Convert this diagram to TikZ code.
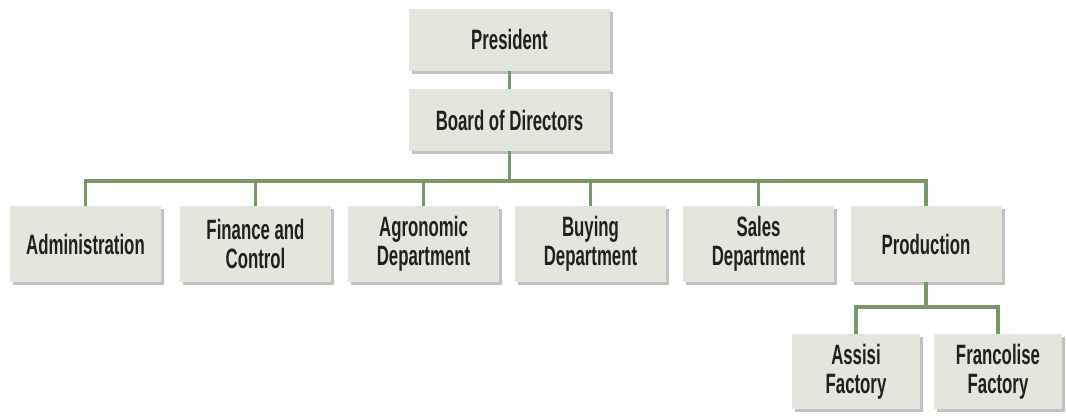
\documentclass[tikz,border=0pt]{standalone}
\usepackage{fontspec}
\setmainfont{Liberation Sans}[FakeStretch=0.6]
\usetikzlibrary{shadows}
\definecolor{boxfill}{RGB}{228,230,221}
\definecolor{linkgreen}{RGB}{120,152,106}
\definecolor{ink}{RGB}{35,31,32}
\tikzset{
  orgbox/.style={fill=boxfill, text=ink, align=center, inner sep=0pt,
    minimum width=151pt, minimum height=76pt,
    font=\fontsize{28}{29}\selectfont\bfseries,
    drop shadow={shadow xshift=3pt, shadow yshift=-3pt, opacity=0.4, fill=black!60}},
  topbox/.style={orgbox, minimum width=201pt, minimum height=62pt},
  plantbox/.style={orgbox, minimum width=128pt, minimum height=75pt},
  link/.style={draw=linkgreen, line width=3.5pt}
}
\begin{document}
\begin{tikzpicture}[x=1pt,y=-1pt]
\useasboundingbox (0,0) rectangle (1066,416);
\node[topbox] (pres) at (509.5, 39.5) {President};
\node[topbox] (board) at (509.5, 120) {Board of Directors};
\coordinate (bus) at (509.5, 181);
% departments
\node[orgbox] (admin) at (85.5, 244) {Administration};
\node[orgbox] (fin) at (255.5, 244) {Finance and\\Control};
\node[orgbox] (agro) at (423.5, 244) {Agronomic\\Department};
\node[orgbox] (buy) at (590.5, 244) {Buying\\Department};
\node[orgbox] (sales) at (758.5, 244) {Sales\\Department};
\node[orgbox] (prod) at (926, 244) {Production};
\coordinate (pbus) at (926, 307);
% factories
\node[plantbox] (assisi) at (856, 371.5) {Assisi\\Factory};
\node[plantbox] (franc) at (998, 371.5) {Francolise\\Factory};

\path[link] (pres) -- (board);
\path[link] (board) -- (bus);
\path[link] (bus) -| (admin.north);
\path[link] (bus) -| (fin.north);
\path[link] (bus) -| (agro.north);
\path[link] (bus) -| (buy.north);
\path[link] (bus) -| (sales.north);
\path[link] (bus) -| (prod.north);
\path[link] (prod) -- (pbus);
\path[link] (pbus) -| (assisi.north);
\path[link] (pbus) -| (franc.north);
\end{tikzpicture}
\end{document}
